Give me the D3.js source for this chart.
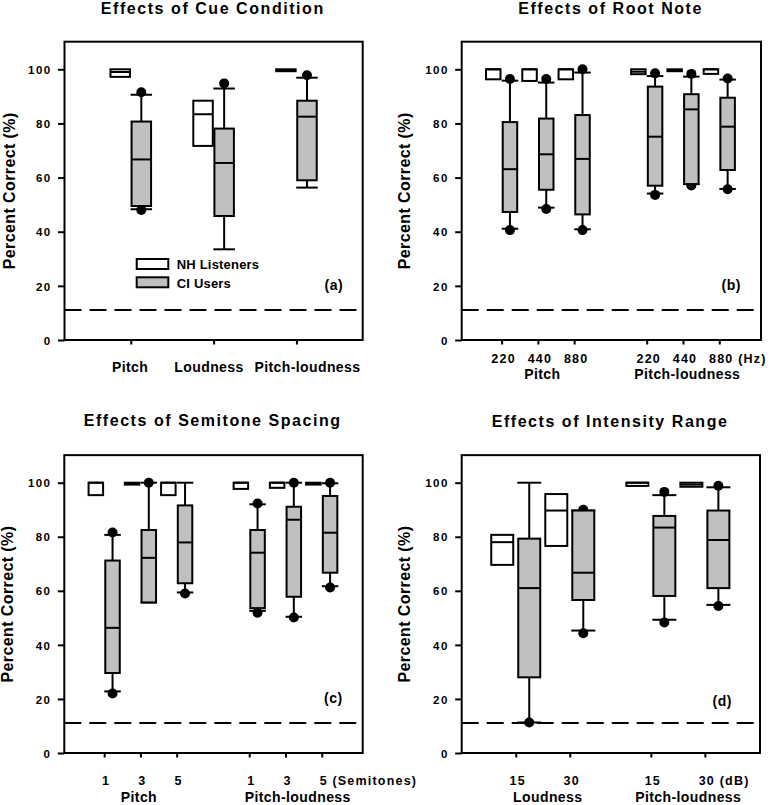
<!DOCTYPE html>
<html><head><meta charset="utf-8">
<script src="https://cdn.jsdelivr.net/npm/d3@7/dist/d3.min.js"></script>
<style>
body{margin:0;background:#fff;}
svg text{font-family:Arial,"Liberation Sans",Helvetica,sans-serif;font-weight:bold;fill:#000;}
</style></head><body>
<svg id="chart" width="773" height="805"></svg>
<script>
// ================= DATA =================
const yTicks = [0, 20, 40, 60, 80, 100];
const chanceLevel = 11.1;
const seriesNames = ["NH Listeners", "CI Users"];

// NH rows: [q1, median, q3]
// CI rows: [whiskerLow, q1, median, q3, whiskerHigh, dotLow, dotHigh]

// (a) Effects of Cue Condition
const cueTitle = "Effects of Cue Condition";
const cueLabels = ["Pitch", "Loudness", "Pitch-loudness"];
const cueNH = [[97.2, 99.0, 100], [71.7, 83.4, 88.4], [99.3, 99.6, 100]];
const cueCI = [
  [48.3, 49.5, 66.7, 80.7, 90.6, 48.0, 91.5],
  [33.5, 45.8, 65.4, 78.1, 92.9, null, 94.8],
  [56.3, 59.0, 82.5, 88.4, 96.9, null, 97.8]
];

// (b) Effects of Root Note
const rootTitle = "Effects of Root Note";
const rootLabels = ["220", "440", "880", "220", "440", "880"];
const rootGroups = ["Pitch", "Pitch-loudness"];
const rootUnit = "(Hz)";
const rootNH = [[96.3, 100, 100], [95.7, 100, 100], [96.3, 100, 100],
                [98.2, 99.1, 100], [99.3, 99.6, 100], [98.3, 100, 100]];
const rootCI = [
  [41.1, 47.3, 63.1, 80.5, 95.8, 40.6, 96.4],
  [48.9, 55.5, 68.6, 81.8, 95.1, 48.4, 96.4],
  [40.9, 46.4, 66.9, 83.1, 98.8, 40.6, 100.0],
  [54.1, 57.0, 75.1, 93.6, 97.5, 53.6, 98.5],
  [57.6, 57.6, 85.2, 90.8, 97.3, 57.1, 98.3],
  [55.8, 62.8, 78.8, 89.5, 96.2, 55.7, 96.6]
];

// (c) Effects of Semitone Spacing
const semiTitle = "Effects of Semitone Spacing";
const semiLabels = ["1", "3", "5", "1", "3", "5"];
const semiGroups = ["Pitch", "Pitch-loudness"];
const semiUnit = "(Semitones)";
const semiNH = [[95.4, 100, 100], [99.3, 99.6, 100], [95.4, 100, 100],
                [97.7, 100, 100], [98.1, 100, 100], [99.3, 99.7, 100]];
const semiCI = [
  [22.8, 29.6, 46.3, 71.2, 80.7, 22.0, 81.6],
  [55.7, 55.7, 72.2, 82.5, 100, null, 100],
  [59.4, 62.8, 77.9, 91.6, 100, 59.0, null],
  [52.6, 53.6, 74.1, 82.5, 92.0, 51.9, 92.3],
  [50.4, 57.8, 86.3, 91.1, 100, 50.1, 100],
  [61.7, 66.7, 81.5, 95.1, 99.8, 61.2, 100]
];

// (d) Effects of Intensity Range
const intTitle = "Effects of Intensity Range";
const intLabels = ["15", "30", "15", "30"];
const intGroups = ["Loudness", "Pitch-loudness"];
const intUnit = "(dB)";
const intNH = [[69.6, 78.0, 80.7], [76.6, 89.7, 95.8], [98.8, 100, 100], [98.5, 99.3, 100]];
const intCI = [
  [11.3, 28.0, 61.0, 79.3, 100, 11.3, null],
  [45.3, 56.6, 66.7, 89.7, 89.7, 44.3, 90.0],
  [49.3, 58.1, 83.4, 87.7, 95.4, 48.3, 96.6],
  [54.8, 61.0, 78.8, 89.7, 98.3, 54.4, 98.9]
];

// ================= LAYOUT =================
const panels = [
  { tag: "(a)", title: cueTitle, labels: cueLabels, groups: null, unit: null, nh: cueNH, ci: cueCI,
    left: 64.5, right: 362.7, y0px: 340, y100px: 69.3, xDomain: [0.2, 3.8], perGroup: 3, groupGap: 0,
    boxW: 19.5, gap: 0.8, titleY: 13.5, yLabelX: 14.8, catY: 371.7, catDx: [-0.7, -4.6, 11],
    tagDx: -19.5, tagDy: -50.5, legend: true },
  { tag: "(b)", title: rootTitle, labels: rootLabels, groups: rootGroups, unit: rootUnit, nh: rootNH, ci: rootCI,
    left: 461.7, right: 761, y0px: 340, y100px: 69.3, xDomain: [-0.1, 8.15], perGroup: 3, groupGap: 1,
    boxW: 14.5, gap: 1.1, titleY: 13.5, yLabelX: 409.8, numY: 363.3, grpY: 379.3, grpDx: [4.5, 4.3],
    tagDx: -20, tagDy: -50.5 },
  { tag: "(c)", title: semiTitle, labels: semiLabels, groups: semiGroups, unit: semiUnit, nh: semiNH, ci: semiCI,
    left: 64.3, right: 362.7, y0px: 753, y100px: 482.7, xDomain: [-0.1, 8.13], perGroup: 3, groupGap: 1,
    boxW: 14.5, gap: 1.1, titleY: 426.3, yLabelX: 13.2, numY: 785, grpY: 801.7, grpDx: [-1.5, 12.3],
    tagDx: -20, tagDy: -50 },
  { tag: "(d)", title: intTitle, labels: intLabels, groups: intGroups, unit: intUnit, nh: intNH, ci: intCI,
    left: 461.7, right: 760, y0px: 753, y100px: 482.7, xDomain: [0, 5.52], perGroup: 2, groupGap: 0.5,
    boxW: 22, gap: 2.5, titleY: 426.5, yLabelX: 409.5, numY: 785, grpY: 801.7, grpDx: [5, 10.4],
    tagDx: -28, tagDy: -47 }
];

const svg = d3.select("#chart");
const GRAY = "#c0c0c0";

panels.forEach(p => {
  const g = svg.append("g");
  const y = d3.scaleLinear().domain([0, 100]).range([p.y0px, p.y100px]);
  const x = d3.scaleLinear().domain(p.xDomain).range([p.left, p.right]);
  const top = y(110.2), bottom = y(0);
  const pos = p.labels.map((_, i) => i + 1 + Math.floor(i / p.perGroup) * p.groupGap);

  // title
  g.append("text").attr("x", (p.left + p.right) / 2 - 0.8).attr("y", p.titleY)
    .attr("text-anchor", "middle").style("font-size", "16px").style("letter-spacing", "1.55px")
    .text(p.title);

  // y label
  g.append("text").attr("transform", `translate(${p.yLabelX},${(top + bottom) / 2}) rotate(-90)`)
    .attr("text-anchor", "middle").style("font-size", "16px").style("letter-spacing", "0.4px")
    .text("Percent Correct (%)");

  // y axis
  const yAxis = g.append("g").attr("transform", `translate(${p.left},0)`)
    .call(d3.axisLeft(y).tickValues(yTicks).tickSize(6.5).tickPadding(6.5).tickFormat(d3.format("d")));
  yAxis.select(".domain").remove();
  yAxis.selectAll(".tick line").attr("stroke", "#000").attr("stroke-width", 2);
  yAxis.selectAll(".tick text").style("font-size", "11.5px").style("letter-spacing", "1.4px")
    .style("font-family", "Arial, 'Liberation Sans', sans-serif").attr("dy", "0.36em");

  // x axis ticks
  const xAxis = g.append("g").attr("transform", `translate(0,${bottom})`)
    .call(d3.axisBottom(x).tickValues(pos).tickSize(4.5).tickFormat(""));
  xAxis.select(".domain").remove();
  xAxis.selectAll(".tick line").attr("stroke", "#000").attr("stroke-width", 2);

  // chance line
  g.append("line").attr("x1", p.left).attr("x2", p.right).attr("y1", y(chanceLevel)).attr("y2", y(chanceLevel))
    .attr("stroke", "#000").attr("stroke-width", 2).attr("stroke-dasharray", "17,8");

  const w = p.boxW;
  // dots (drawn beneath boxes)
  p.ci.forEach((s, i) => {
    const cx = x(pos[i]) + p.gap + w / 2;
    [s[5], s[6]].forEach(v => {
      if (v !== null) g.append("circle").attr("cx", cx).attr("cy", y(v)).attr("r", 5).attr("fill", "#000");
    });
  });
  // CI whiskers + boxes
  p.ci.forEach((s, i) => {
    const xl = x(pos[i]) + p.gap;
    const cx = xl + w / 2;
    const [wl, q1, md, q3, wh] = s;
    if (wl < q1) g.append("line").attr("x1", cx).attr("x2", cx).attr("y1", y(wl)).attr("y2", y(q1)).attr("stroke", "#000").attr("stroke-width", 2);
    if (wh > q3) g.append("line").attr("x1", cx).attr("x2", cx).attr("y1", y(wh)).attr("y2", y(q3)).attr("stroke", "#000").attr("stroke-width", 2);
    [wl, wh].forEach(v => g.append("line").attr("x1", xl - 1).attr("x2", xl + w + 1).attr("y1", y(v)).attr("y2", y(v)).attr("stroke", "#000").attr("stroke-width", 2));
    g.append("rect").attr("x", xl).attr("y", y(q3)).attr("width", w).attr("height", y(q1) - y(q3))
      .attr("fill", GRAY).attr("stroke", "#000").attr("stroke-width", 2);
    g.append("line").attr("x1", xl).attr("x2", xl + w).attr("y1", y(md)).attr("y2", y(md)).attr("stroke", "#000").attr("stroke-width", 2);
  });
  // NH boxes
  p.nh.forEach((s, i) => {
    const xl = x(pos[i]) - p.gap - w;
    const [q1, md, q3] = s;
    g.append("rect").attr("x", xl).attr("y", y(q3)).attr("width", w).attr("height", y(q1) - y(q3))
      .attr("fill", "#fff").attr("stroke", "#000").attr("stroke-width", 2);
    g.append("line").attr("x1", xl).attr("x2", xl + w).attr("y1", y(md)).attr("y2", y(md)).attr("stroke", "#000").attr("stroke-width", 2);
  });

  // frame
  g.append("rect").attr("x", p.left).attr("y", top).attr("width", p.right - p.left).attr("height", bottom - top)
    .attr("fill", "none").attr("stroke", "#000").attr("stroke-width", 2);

  // panel tag
  g.append("text").attr("x", p.right + p.tagDx).attr("y", bottom + p.tagDy).attr("text-anchor", "end")
    .style("font-size", "14px").style("letter-spacing", "0.5px").text(p.tag);

  // x labels
  if (!p.groups) {
    p.labels.forEach((lab, i) => {
      g.append("text").attr("x", x(pos[i]) + p.catDx[i]).attr("y", p.catY).attr("text-anchor", "middle")
        .style("font-size", "14px").style("letter-spacing", "0.4px").text(lab);
    });
  } else {
    p.labels.forEach((lab, i) => {
      const isLast = i === p.labels.length - 1;
      const t = g.append("text").attr("y", p.numY).style("font-size", "12.5px").style("letter-spacing", "1.2px");
      if (!isLast) {
        t.attr("x", x(pos[i]) + 2).attr("text-anchor", "middle").text(lab);
      } else {
        t.append("tspan").text(lab);
        const numW = t.node().getComputedTextLength();
        t.append("tspan").text(" " + p.unit);
        t.attr("x", x(pos[i]) + 2 - numW / 2).attr("text-anchor", "start");
      }
    });
    p.groups.forEach((gname, k) => {
      const gp = pos.slice(k * p.perGroup, (k + 1) * p.perGroup);
      const mid = x(d3.mean(gp));
      g.append("text").attr("x", mid + p.grpDx[k]).attr("y", p.grpY).attr("text-anchor", "middle")
        .style("font-size", "14px").style("letter-spacing", "0.4px").text(gname);
    });
  }

  // legend
  if (p.legend) {
    const lx = 136.7, ly = [259, 277.3];
    seriesNames.forEach((nm, k) => {
      g.append("rect").attr("x", lx).attr("y", ly[k]).attr("width", 31.6).attr("height", 10)
        .attr("fill", k === 0 ? "#fff" : GRAY).attr("stroke", "#000").attr("stroke-width", 2);
      g.append("text").attr("x", 176.7).attr("y", ly[k] + 10.2).style("font-size", "13px").style("letter-spacing", "0.2px").text(nm);
    });
  }
});
</script>
</body></html>
